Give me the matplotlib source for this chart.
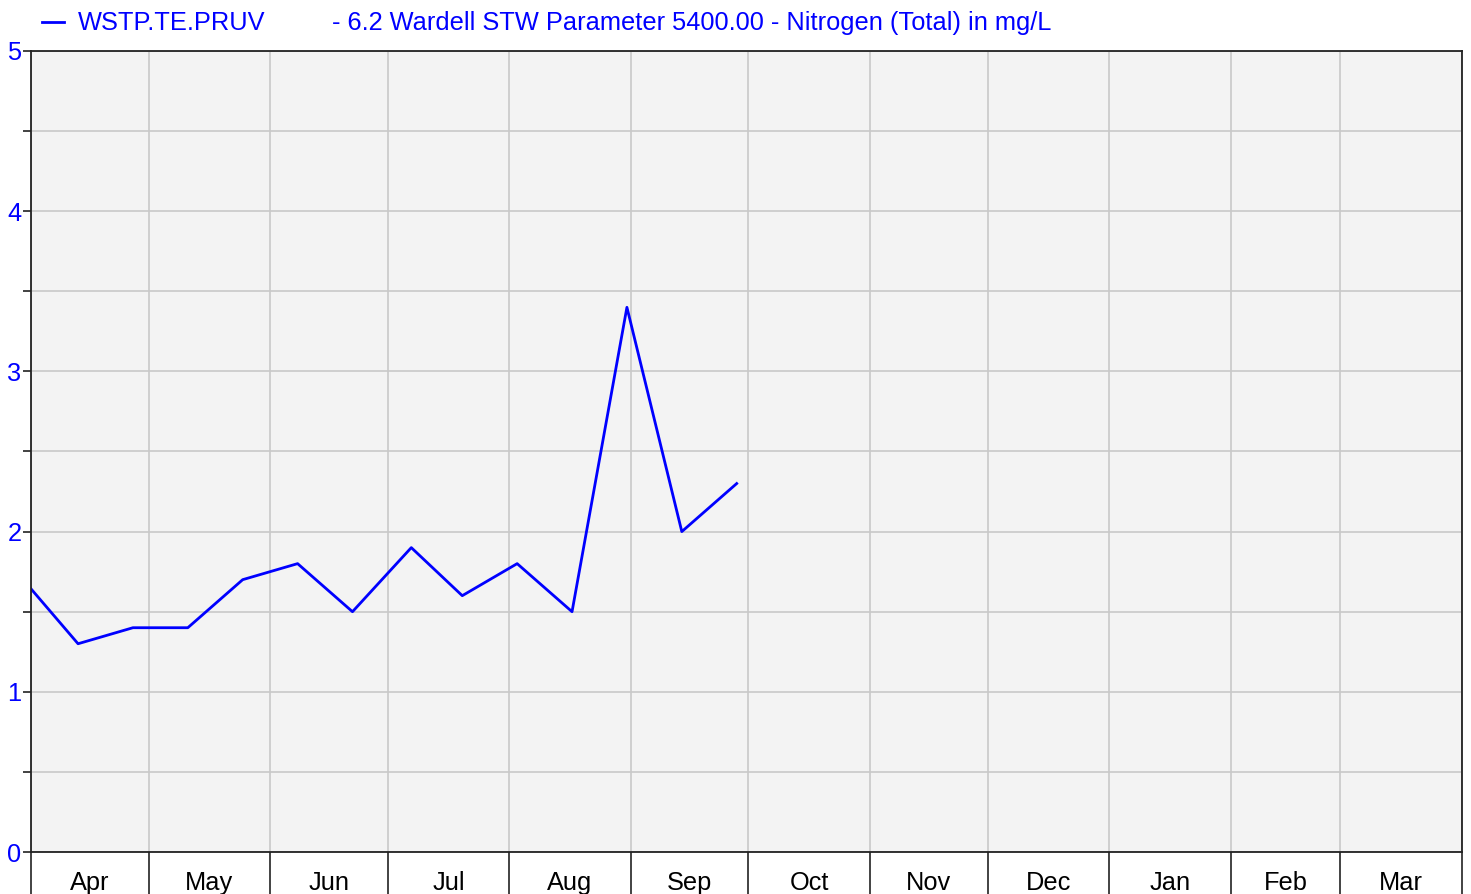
import matplotlib
matplotlib.use("Agg")
import matplotlib.pyplot as plt
import numpy as np
import pandas as pd

plt.rcParams["font.family"] = ["Liberation Sans", "DejaVu Sans"]

# sample dates (fortnightly) and Total Nitrogen readings in mg/L
dates = ["2024-03-30", "2024-04-13", "2024-04-27", "2024-05-11", "2024-05-25",
         "2024-06-08", "2024-06-22", "2024-07-07", "2024-07-20", "2024-08-03",
         "2024-08-17", "2024-08-31", "2024-09-14", "2024-09-28"]
nitrogen = [1.7, 1.3, 1.4, 1.4, 1.7, 1.8, 1.5, 1.9, 1.6, 1.8, 1.5, 3.4, 2.0, 2.3]

month_names = ["Apr", "May", "Jun", "Jul", "Aug", "Sep", "Oct", "Nov", "Dec",
               "Jan", "Feb", "Mar"]
series_name = "WSTP.TE.PRUV"
series_desc = "- 6.2 Wardell STW Parameter 5400.00 - Nitrogen (Total) in mg/L"

FS = 18.3

x = pd.to_datetime(dates)
month_edges = pd.date_range("2024-04-01", "2025-04-01", freq="MS")
month_mids = month_edges[:-1] + (month_edges[1:] - month_edges[:-1]) / 2

fig = plt.figure(figsize=(14.71, 8.94), dpi=100)
ax = fig.add_axes([31 / 1471, 1 - 852 / 894, (1462 - 31) / 1471, (852 - 51) / 894])
ax.set_facecolor("#f3f3f3")

ax.plot(x, nitrogen, color="#0000ff", lw=2)

ax.set_xlim(month_edges[0], month_edges[-1])
ax.set_ylim(0, 5)

# month boundaries as major ticks (long, no labels), month names at mid-month
ax.set_xticks(month_edges)
ax.set_xticklabels([])
ax.set_xticks(month_mids, minor=True)
ax.set_xticklabels(month_names, minor=True)
ax.tick_params(axis="x", which="major", length=38, width=1.2, color="#222222", direction="out")
ax.tick_params(axis="x", which="minor", length=0, pad=14, labelsize=FS, labelcolor="black")

ax.set_yticks(np.arange(0, 6, 1))
ax.set_yticks(np.arange(0.5, 5, 1), minor=True)
ax.tick_params(axis="y", which="both", length=6, width=1.2, color="#222222", pad=1,
               labelsize=FS, labelcolor="#0000ff")

ax.grid(True, which="major", axis="both", color="#c8c8c8", lw=1.2)
ax.grid(True, which="minor", axis="y", color="#c8c8c8", lw=1.2)
ax.set_axisbelow(True)

for s in ax.spines.values():
    s.set_color("#222222")
    s.set_linewidth(1.3)

# legend drawn as a header line above the plot
fig.add_artist(plt.Line2D([42 / 1471, 64 / 1471], [1 - 22 / 894, 1 - 22 / 894],
                          color="#0000ff", lw=2))
fig.text(78 / 1471, 1 - 23 / 894, series_name, color="#0000ff", fontsize=FS, va="center")
fig.text(332 / 1471, 1 - 23 / 894, series_desc, color="#0000ff", fontsize=FS, va="center")

fig.savefig("out.png", dpi=100)
